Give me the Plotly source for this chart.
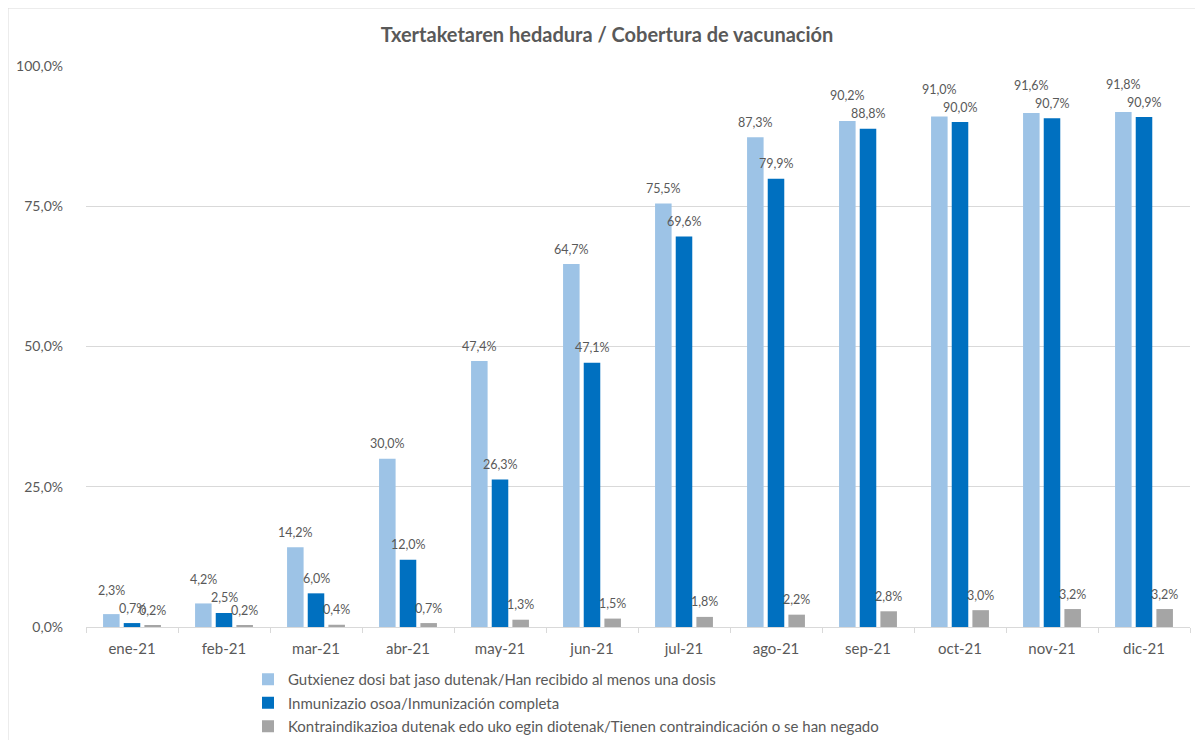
import plotly.graph_objects as go

months = ["ene-21", "feb-21", "mar-21", "abr-21", "may-21", "jun-21",
          "jul-21", "ago-21", "sep-21", "oct-21", "nov-21", "dic-21"]
first_dose = [2.3, 4.2, 14.2, 30.0, 47.4, 64.7, 75.5, 87.3, 90.2, 91.0, 91.6, 91.8]
full_immun = [0.7, 2.5, 6.0, 12.0, 26.3, 47.1, 69.6, 79.9, 88.8, 90.0, 90.7, 90.9]
contra = [0.2, 0.2, 0.4, 0.7, 1.3, 1.5, 1.8, 2.2, 2.8, 3.0, 3.2, 3.2]
names = [
    "Gutxienez dosi bat jaso dutenak/Han recibido al menos una dosis",
    "Inmunizazio osoa/Inmunización completa",
    "Kontraindikazioa dutenak edo uko egin diotenak/Tienen contraindicación o se han negado",
]
y_ticks = [0, 25, 50, 75, 100]
y_ticklabels = ["0,0%", "25,0%", "50,0%", "75,0%", "100,0%"]

colors = ["#9DC3E6", "#0070C0", "#A5A5A5"]
FONT = "Lato, 'Open Sans', sans-serif"
LABEL_COLOR = "#595959"
OFF = 8  # page body margin
W, H = 1203 - OFF, 740 - OFF
SL, SR, ST, SB = 86, 1190, 66, 627
L, T = SL - OFF, ST - OFF
R = W - (SR - OFF)
B = H - (SB - OFF)

pw = W - L - R
ph = H - T - B
def px_x(p):
    return (p - OFF - L) / pw
def px_y(p):
    return (H - B - (p - OFF)) / ph

BARGAP, GROUPGAP = 0.326, 0.2
slot_px = pw / len(months) * (1 - BARGAP) / 3
unit_px = ph / 100.0
LABEL_GAP = 15      # label centre above bar top, px
MIN_SEP = 18        # min vertical separation between neighbour labels, px

series = [first_dose, full_immun, contra]
fig = go.Figure()
for i, (vals, nm) in enumerate(zip(series, names)):
    fig.add_trace(go.Bar(
        x=months, y=vals, name=nm,
        marker=dict(color=colors[i], line=dict(width=0)),
        cliponaxis=False, legendgroup=f"g{i}",
    ))

annotations = []
for j, m in enumerate(months):
    shifts = [LABEL_GAP, LABEL_GAP, LABEL_GAP]
    c0 = first_dose[j] * unit_px + shifts[0]
    c1 = full_immun[j] * unit_px + shifts[1]
    if c0 - c1 < MIN_SEP:
        shifts[0] += MIN_SEP - (c0 - c1)
    for i, vals in enumerate(series):
        annotations.append(dict(
            x=m, y=vals[j], xref="x", yref="y",
            text=f"{vals[j]:.1f}%".replace(".", ","),
            showarrow=False, xanchor="center", yanchor="middle",
            xshift=(i - 1) * slot_px, yshift=shifts[i],
            font=dict(family=FONT, size=12.5, color=LABEL_COLOR),
        ))

fig.update_layout(
    width=W, height=H,
    margin=dict(l=L, r=R, t=T, b=B, autoexpand=False),
    paper_bgcolor="white", plot_bgcolor="white",
    separators=",.",
    barmode="group", bargap=BARGAP, bargroupgap=GROUPGAP,
    font=dict(family=FONT, color="#595959"),
    title=dict(text="<b>Txertaketaren hedadura / Cobertura de vacunación</b>",
               x=(607 - OFF) / W, xanchor="center", y=1 - (35 - OFF) / H, yanchor="middle",
               xref="container", yref="container",
               font=dict(family=FONT, size=20, color="#595959")),
    legend=dict(x=px_x(248), y=px_y(663), xanchor="left", yanchor="top",
                orientation="v", traceorder="grouped", tracegroupgap=1,
                font=dict(family=FONT, size=15, color="#595959"),
                bgcolor="rgba(0,0,0,0)"),
    showlegend=True,
    annotations=annotations,
    xaxis=dict(showgrid=False, showline=True, linecolor="#D9D9D9", linewidth=1,
               ticks="outside", tickson="boundaries", ticklen=5, tickcolor="#D9D9D9",
               ticklabelstandoff=8,
               tickfont=dict(family=FONT, size=15, color="#595959"),
               fixedrange=True),
    yaxis=dict(range=[0, 100], tickvals=y_ticks, ticktext=y_ticklabels,
               showgrid=True, gridcolor="#D9D9D9", gridwidth=1, zeroline=False,
               showline=False, ticks="", ticklabelstandoff=22,
               tickfont=dict(family=FONT, size=14, color="#595959"),
               fixedrange=True),
    shapes=[dict(type="rect", xref="paper", yref="paper",
                 x0=px_x(8), x1=px_x(1215), y0=px_y(752), y1=px_y(8),
                 line=dict(color="#D9D9D9", width=1), fillcolor="rgba(0,0,0,0)",
                 layer="below")],
)

fig.write_html("out.html")
